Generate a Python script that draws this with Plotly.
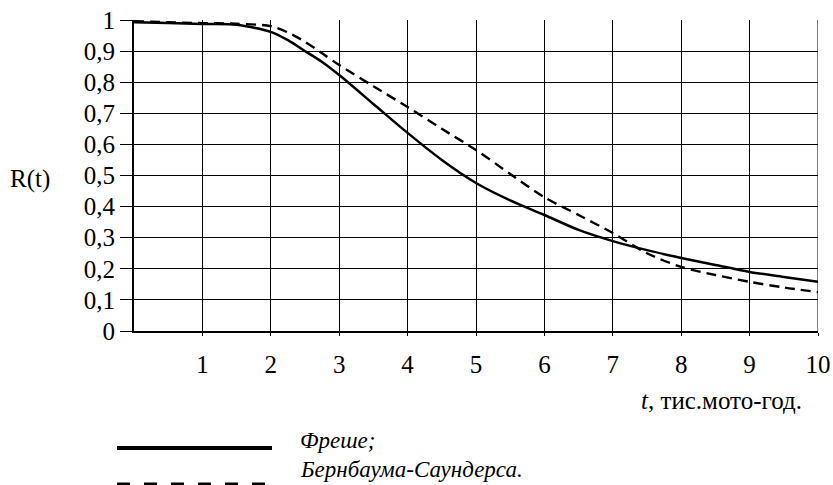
import plotly.graph_objects as go

# Data
t_freshe = [0, 0.5, 1, 1.5, 2, 2.25, 2.5, 2.75, 3, 3.5, 4, 4.5, 5, 5.5, 6, 6.5, 7, 7.5, 8, 8.5, 9, 9.5, 10]
r_freshe = [0.993, 0.99, 0.987, 0.985, 0.962, 0.935, 0.90, 0.865, 0.823, 0.73, 0.637, 0.55, 0.476, 0.42,
            0.373, 0.325, 0.289, 0.26, 0.235, 0.212, 0.19, 0.174, 0.158]

t_bs = [0, 1, 1.5, 2, 2.25, 2.5, 2.75, 3, 3.5, 4, 4.5, 5, 5.5, 6, 6.5, 7, 7.5, 8, 8.5, 9, 9.5, 10]
r_bs = [0.996, 0.99, 0.988, 0.98, 0.96, 0.93, 0.893, 0.855, 0.787, 0.72, 0.65, 0.582, 0.505, 0.43,
        0.373, 0.315, 0.25, 0.206, 0.18, 0.158, 0.14, 0.125]

x_ticks = [1, 2, 3, 4, 5, 6, 7, 8, 9, 10]
y_ticks = [0, 0.1, 0.2, 0.3, 0.4, 0.5, 0.6, 0.7, 0.8, 0.9, 1]
y_tick_labels = ["0", "0,1", "0,2", "0,3", "0,4", "0,5", "0,6", "0,7", "0,8", "0,9", "1"]

legend_names = ["Фреше;", "Бернбаума-Саундерса."]

FONT = "Times New Roman"
FS = 25

fig = go.Figure()
fig.add_trace(go.Scatter(x=t_bs, y=r_bs, mode="lines", name=legend_names[1],
                         line=dict(color="black", width=2.4, dash="10px,6px", shape="spline", smoothing=0.8)))
fig.add_trace(go.Scatter(x=t_freshe, y=r_freshe, mode="lines", name=legend_names[0],
                         line=dict(color="black", width=2.5, shape="spline", smoothing=0.8)))

fig.update_layout(
    width=833, height=485,
    margin=dict(l=134, r=15, t=20, b=154, autoexpand=False),
    paper_bgcolor="white", plot_bgcolor="white",
    showlegend=False,
    font=dict(family=FONT, size=FS, color="black"),
    xaxis=dict(range=[0, 10], tickvals=x_ticks, ticktext=[str(v) for v in x_ticks],
               showgrid=True, gridcolor="black", gridwidth=1,
               showline=True, linecolor="black", linewidth=2, mirror=False,
               ticks="outside", ticklen=3, tickcolor="black",
               ticklabelstandoff=7, zeroline=False, automargin=False,
               tickfont=dict(family=FONT, size=FS)),
    yaxis=dict(range=[0, 1], tickvals=y_ticks, ticktext=y_tick_labels,
               showgrid=True, gridcolor="black", gridwidth=1,
               showline=True, linecolor="black", linewidth=2,
               ticks="outside", ticklen=12, tickcolor="black", tickwidth=1,
               zeroline=False, automargin=False, tickfont=dict(family=FONT, size=FS)),
)

# right border line of the grid at t=10
fig.add_shape(type="line", xref="x", yref="paper", x0=10, x1=10, y0=0, y1=1,
              line=dict(color="black", width=1))

def px(xp):
    return (xp - 134) / 684

def py(yp):
    return (331 - yp) / 311

# axis titles
fig.add_annotation(text="R(t)", xref="paper", yref="paper", x=px(30), y=py(179),
                   showarrow=False, font=dict(family=FONT, size=FS), xanchor="center", yanchor="middle")
fig.add_annotation(text="<i>t</i>, тис.мото-год.", xref="paper", yref="paper",
                   x=px(804), y=py(400),
                   showarrow=False, font=dict(family=FONT, size=FS), xanchor="right", yanchor="middle")

# legend samples and texts
fig.add_shape(type="line", xref="paper", yref="paper", x0=px(117), x1=px(272), y0=py(448), y1=py(448),
              line=dict(color="black", width=4))
fig.add_shape(type="line", xref="paper", yref="paper", x0=px(117), x1=px(272), y0=py(484), y1=py(484),
              line=dict(color="black", width=3, dash="13px,14px"))
fig.add_annotation(text="<i>" + legend_names[0] + "</i>", xref="paper", yref="paper", x=px(298), y=py(440),
                   showarrow=False, xanchor="left", yanchor="middle", font=dict(family=FONT, size=23))
fig.add_annotation(text="<i>" + legend_names[1] + "</i>", xref="paper", yref="paper", x=px(298), y=py(469),
                   showarrow=False, xanchor="left", yanchor="middle", font=dict(family=FONT, size=23))

fig.write_html("out.html", config={"displayModeBar": False})

# remove default page margin so the figure sits at the window's top-left corner
with open("out.html", encoding="utf-8") as f:
    html = f.read()
html = html.replace("<head>", "<head><style>html,body{margin:0;padding:0;overflow:hidden;}</style>", 1)
with open("out.html", "w", encoding="utf-8") as f:
    f.write(html)
